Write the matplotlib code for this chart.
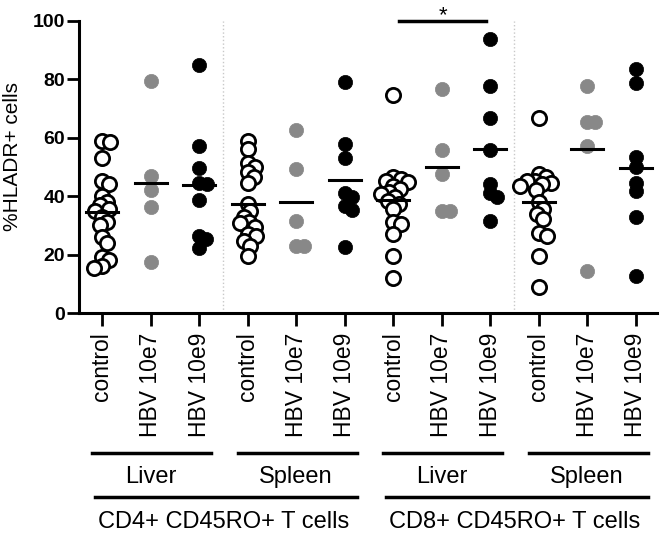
import numpy as np
import matplotlib
matplotlib.use('Agg')
import matplotlib.pyplot as plt
import matplotlib.transforms as mtransforms

plt.rcParams['font.family'] = ['Liberation Sans', 'DejaVu Sans']

# %HLADR+ values, one list per column
cd4_liver_ctrl = [59, 58.5, 53, 45, 44, 40, 38, 37, 35.5, 35, 33, 31, 30, 26, 24, 19, 18, 16, 15.5]
cd4_liver_e7 = [79.4, 46.8, 42.1, 36.2, 17.6]
cd4_liver_e9 = [85, 57.3, 49.7, 44.5, 44, 38.7, 26.4, 25.3, 22.4]
cd4_spleen_ctrl = [59, 56, 51.3, 49.9, 48.2, 46.5, 44.4, 37.3, 34.8, 33, 31, 30.7, 29.3, 27, 26.4, 24.7, 23, 19.6]
cd4_spleen_e7 = [62.5, 49.3, 31.6, 23, 23]
cd4_spleen_e9 = [79, 57.7, 53.1, 41, 39.6, 36.7, 35.2, 22.7]
cd8_liver_ctrl = [74.5, 46.4, 45.9, 45.3, 44.7, 43.6, 42.5, 41.3, 40.7, 39.6, 38.4, 37.3, 35.6, 31, 30.4, 27, 19.6, 12.1]
cd8_liver_e7 = [76.8, 55.9, 47.4, 35, 35]
cd8_liver_e9 = [93.6, 77.6, 66.8, 55.6, 44.2, 41, 39.6, 31.6]
cd8_spleen_ctrl = [66.8, 47.6, 46.4, 45.3, 45, 44.4, 44, 43.6, 42.1, 37.9, 35.6, 33.9, 32.2, 27.2, 26.4, 19.6, 9]
cd8_spleen_e7 = [77.6, 65.3, 65.3, 57.3, 14.4]
cd8_spleen_e9 = [83.6, 78.7, 53.3, 49.9, 44.4, 41.6, 33, 12.7]

columns = [cd4_liver_ctrl, cd4_liver_e7, cd4_liver_e9,
           cd4_spleen_ctrl, cd4_spleen_e7, cd4_spleen_e9,
           cd8_liver_ctrl, cd8_liver_e7, cd8_liver_e9,
           cd8_spleen_ctrl, cd8_spleen_e7, cd8_spleen_e9]
conditions = ['control', 'HBV 10e7', 'HBV 10e9']
tissues = ['Liver', 'Spleen', 'Liver', 'Spleen']
cell_types = ['CD4+ CD45RO+ T cells', 'CD8+ CD45RO+ T cells']

GRAY = '#888888'
styles = [dict(facecolors='white', edgecolors='black'),
          dict(facecolors=GRAY, edgecolors=GRAY),
          dict(facecolors='black', edgecolors='black')]

W, H = 664, 533
fig = plt.figure(figsize=(W / 100, H / 100), dpi=100)
ax = fig.add_axes([79 / W, 1 - 313 / H, (657 - 79) / W, (313 - 20.7) / H])
ax.set_xlim(-0.474, 11.44)
ax.set_ylim(0, 100)

# pixels per data unit, used to spread points like a column scatter
xpx = (657 - 79) / (11.44 + 0.474)
ypx = (313 - 20.7) / 100


def swarm(vals, min_px=7.5):
    placed = []
    offs = np.zeros(len(vals))
    cands = [0.0]
    for k in np.arange(1, 80, 1.0):
        cands += [k, -k]
    for i in np.argsort(vals)[::-1]:
        y = vals[i] * ypx
        for c in cands:
            if all((c - px) ** 2 + (y - py) ** 2 >= min_px ** 2 for px, py in placed):
                break
        placed.append((c, y))
        offs[i] = c / xpx
    return offs


for i, vals in enumerate(columns):
    vals = np.array(vals, dtype=float)
    st = styles[i % 3]
    xs = i + swarm(vals)
    lw = 2.0 if i % 3 == 0 else 0.5
    ax.scatter(xs, vals, s=105, linewidths=lw, zorder=3, clip_on=False, **st)
    m = vals.mean()
    ax.plot([i - 0.33, i + 0.33], [m, m], color='black', lw=2.2, zorder=4)

# dotted separators
for xsep in [2.5, 8.5]:
    ax.axvline(xsep, color='#c8c8c8', lw=1, ls=':', zorder=1)

for s in ['top', 'right']:
    ax.spines[s].set_visible(False)
for s in ['left', 'bottom']:
    ax.spines[s].set_linewidth(2.2)

ax.set_yticks(range(0, 101, 20))
ax.tick_params(axis='y', length=9, width=2, pad=1, labelsize=14)
for t in ax.get_yticklabels():
    t.set_fontweight('bold')
ax.set_xticks(range(12))
ax.set_xticklabels(conditions * 4, rotation=90, fontsize=16.5)
ax.tick_params(axis='x', length=9, width=2, pad=5)

fig.text(12.5 / W, 1 - 156.5 / H, '%HLADR+ cells', rotation=90,
         ha='center', va='center', fontsize=15)

# significance bar
ax.plot([6.12, 7.92], [100, 100], color='black', lw=2.5, clip_on=False)
ax.text(7.03, 100, '*', ha='center', va='baseline', fontsize=16)

# group brackets under the tick labels
tr = mtransforms.blended_transform_factory(ax.transData, fig.transFigure)
for g, name in enumerate(tissues):
    x0, x1 = 3 * g - 0.2, 3 * g + 2 + 0.25
    ax.plot([x0, x1], [1 - 453 / H] * 2, transform=tr, color='black', lw=2.5, clip_on=False)
    ax.text(3 * g + 1, 1 - 477 / H, name, transform=tr, ha='center', va='center', fontsize=17)
for g, name in enumerate(cell_types):
    x0, x1 = 6 * g - 0.15, 6 * g + 5 + 0.25
    ax.plot([x0, x1], [1 - 497 / H] * 2, transform=tr, color='black', lw=2.5, clip_on=False)
    ax.text(6 * g + 2.5, 1 - 522 / H, name, transform=tr, ha='center', va='center', fontsize=17)

fig.savefig('out.png', dpi=100)
